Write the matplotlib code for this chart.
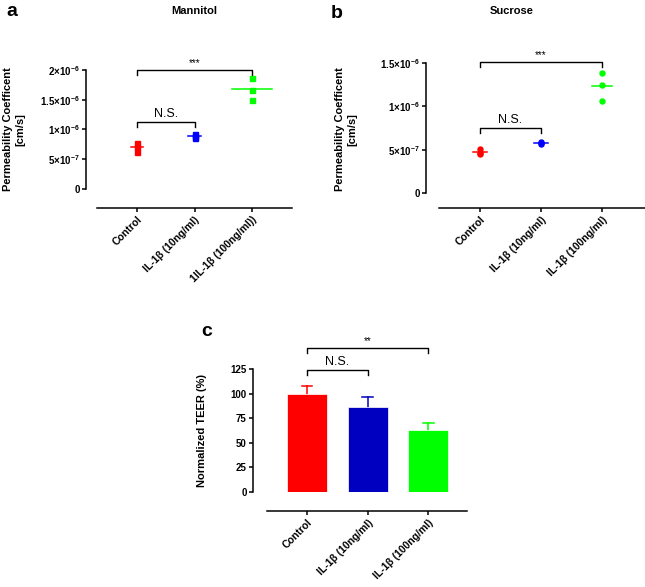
import numpy as np
import matplotlib
matplotlib.use('Agg')
import matplotlib.pyplot as plt

plt.rcParams['font.family'] = ['Liberation Sans', 'DejaVu Sans']
plt.rcParams['mathtext.fontset'] = 'custom'
plt.rcParams['mathtext.rm'] = 'Liberation Sans'
plt.rcParams['mathtext.bf'] = 'Liberation Sans:bold'
plt.rcParams['mathtext.default'] = 'bf'

# ---- data ----
groups_a = ['Control', 'IL-1β (10ng/ml)', '1IL-1β (100ng/ml))']
groups_bc = ['Control', 'IL-1β (10ng/ml)', 'IL-1β (100ng/ml)']
colors = ['#ff0000', '#0000ff', '#00ff00']
bar_colors = ['#ff0000', '#0000c0', '#00ff00']

mannitol_ctrl = [7.8e-7, 7.0e-7, 6.2e-7]
mannitol_10 = [9.3e-7, 8.9e-7, 8.6e-7]
mannitol_100 = [1.87e-6, 1.66e-6, 1.50e-6]

sucrose_ctrl = [5.1e-7, 4.6e-7, 4.45e-7]
sucrose_10 = [5.85e-7, 5.75e-7, 5.7e-7]
sucrose_100 = [1.39e-6, 1.25e-6, 1.06e-6]

teer_mean = [100, 86, 63]
teer_sd = [8, 11, 7.5]

W, H = 645, 587
fig = plt.figure(figsize=(W / 100, H / 100), dpi=100)


def px_axes(l, r, t, b):
    return fig.add_axes([l / W, 1 - b / H, (r - l) / W, (b - t) / H])


def style(ax, left_off, bottom_off):
    # spine positions first: set_position resets the tick labels
    for s in ['top', 'right']:
        ax.spines[s].set_visible(False)
    ax.spines['left'].set_position(('outward', left_off))
    ax.spines['bottom'].set_position(('outward', bottom_off))
    ax.spines['left'].set_linewidth(1.1)
    ax.spines['bottom'].set_linewidth(1.1)
    ax.tick_params(width=1.1, length=3, labelsize=7, pad=1.5)


def xlabels(ax, labels):
    ax.set_xticks(range(3))
    ax.set_xticklabels(labels, rotation=45, ha='right', rotation_mode='anchor',
                       fontweight='bold', fontsize=7.5)


def bracket(ax, x1, x2, y, h, text, fs, weight='normal', pad=1.5):
    ax.plot([x1, x1, x2, x2], [y - h, y, y, y - h], color='black', lw=1.0, clip_on=False)
    ax.annotate(text, xy=((x1 + x2) / 2, y), xytext=(0, pad), textcoords='offset points',
                ha='center', va='bottom', fontsize=fs, fontweight=weight, annotation_clip=False)


def scatter_panel(ax, data, marker, halfw, ylim, yticks, ylabels):
    for i, vals in enumerate(data):
        ax.plot([i] * len(vals), vals, ls='none', marker=marker, ms=3.6,
                color=colors[i], clip_on=False, zorder=3)
        m = np.mean(vals)
        ax.plot([i - halfw[i], i + halfw[i]], [m, m], color=colors[i], lw=1.1, zorder=3)
    ax.set_ylim(*ylim)
    ax.set_yticks(yticks)
    ax.set_yticklabels(ylabels, fontweight='bold')


# ---- panel a ----
ax_a = px_axes(97, 292, 70, 189)
style(ax_a, 8, 14)
scatter_panel(ax_a, [mannitol_ctrl, mannitol_10, mannitol_100], 's', [0.11, 0.11, 0.35],
              (0, 2e-6), [0, 5e-7, 1e-6, 1.5e-6, 2e-6],
              ['0', r'5×10$^{-7}$', r'1×10$^{-6}$', r'1.5×10$^{-6}$', r'2×10$^{-6}$'])
xlabels(ax_a, groups_a)
ax_a.set_xlim(-0.7, 2.7)
ax_a.set_ylabel('Permeability Coefficent\n[cm/s]', fontsize=8, fontweight='bold')
ax_a.yaxis.set_label_coords(-0.369, 0.5)
ax_a.set_title('Mannitol', fontsize=8, fontweight='bold', pad=0, y=(189 - 14) / 119)
bracket(ax_a, 0, 2, 2.0e-6, 8.4e-8, '***', 7)
bracket(ax_a, 0, 1, 1.12e-6, 8.4e-8, 'N.S.', 9)

# ---- panel b ----
ax_b = px_axes(439, 645, 63, 193)
style(ax_b, 9.5, 11)
scatter_panel(ax_b, [sucrose_ctrl, sucrose_10, sucrose_100], 'o', [0.12, 0.12, 0.16],
              (0, 1.5e-6), [0, 5e-7, 1e-6, 1.5e-6],
              ['0', r'5×10$^{-7}$', r'1×10$^{-6}$', r'1.5×10$^{-6}$'])
xlabels(ax_b, groups_bc)
ax_b.set_xlim(-0.67, 2.7)
ax_b.set_ylabel('Permeability Coefficent\n[cm/s]', fontsize=8, fontweight='bold')
ax_b.yaxis.set_label_coords(-0.398, 0.49)
ax_b.set_title('Sucrose', fontsize=8, fontweight='bold', pad=0, y=(193 - 14) / 130)
ax_b.title.set_x((512 - 439) / 206)
bracket(ax_b, 0, 2, 1.515e-6, 5.8e-8, '***', 7)
bracket(ax_b, 0, 1, 7.54e-7, 5.8e-8, 'N.S.', 9)

# ---- panel c ----
ax_c = px_axes(267, 467, 369, 492)
style(ax_c, 10, 14)
x = np.arange(3)
ax_c.bar(x, teer_mean, width=0.66, color=bar_colors, edgecolor='white', linewidth=0.5, zorder=2)
for i in range(3):
    top = teer_mean[i] + teer_sd[i]
    ax_c.plot([x[i], x[i]], [teer_mean[i], top], color=bar_colors[i], lw=1.1, zorder=1)
    ax_c.plot([x[i] - 0.09, x[i] + 0.09], [top, top], color=bar_colors[i], lw=1.1, zorder=1)
ax_c.set_xlim(-0.66, 2.64)
ax_c.set_ylim(0, 125)
ax_c.set_yticks([0, 25, 50, 75, 100, 125])
ax_c.set_yticklabels(['0', '25', '50', '75', '100', '125'], fontweight='bold')
xlabels(ax_c, groups_bc)
ax_c.set_ylabel('Normalized TEER (%)', fontsize=8, fontweight='bold')
ax_c.yaxis.set_label_coords(-0.30, 0.504)
bracket(ax_c, 0, 2, 146.4, 5, '**', 7)
bracket(ax_c, 0, 1, 123.6, 5, 'N.S.', 9)

# panel letters
fig.text(12 / W, 1 - 12 / H, 'a', fontsize=14, fontweight='bold', va='center', ha='center')
fig.text(337 / W, 1 - 14 / H, 'b', fontsize=14, fontweight='bold', va='center', ha='center')
fig.text(207 / W, 1 - 332 / H, 'c', fontsize=14, fontweight='bold', va='center', ha='center')

fig.savefig('out.png', dpi=100)
